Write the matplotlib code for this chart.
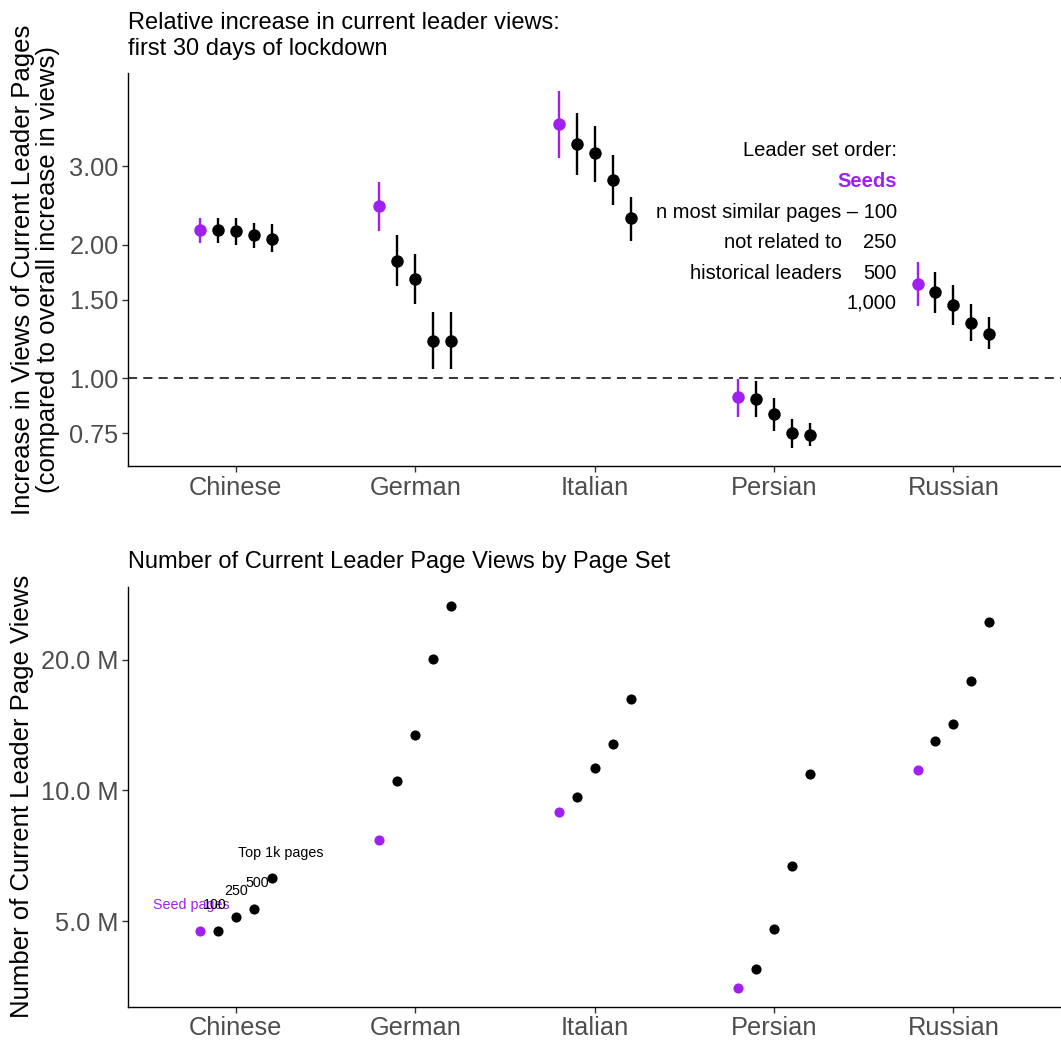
import numpy as np
import matplotlib
matplotlib.use("Agg")
import matplotlib.pyplot as plt
from matplotlib.ticker import FixedLocator, NullLocator, FixedFormatter

plt.rcParams['font.family'] = ['Liberation Sans', 'DejaVu Sans']

# kielet ja sarjat
categories = ['Chinese', 'German', 'Italian', 'Persian', 'Russian']
set_names = ['Seeds', '100', '250', '500', '1,000']

# suhteellinen kasvu (yläpaneeli), rivit = kieli, sarakkeet = sarja
ratio_mid = [[2.16, 2.16, 2.14, 2.10, 2.06],
             [2.44, 1.84, 1.67, 1.21, 1.21],
             [3.74, 3.37, 3.21, 2.80, 2.29],
             [0.905, 0.899, 0.829, 0.751, 0.745],
             [1.63, 1.56, 1.46, 1.33, 1.26]]
ratio_lo = [[2.02, 2.02, 2.00, 1.96, 1.92],
            [2.15, 1.61, 1.47, 1.05, 1.05],
            [3.14, 2.87, 2.77, 2.46, 2.04],
            [0.819, 0.819, 0.760, 0.695, 0.701],
            [1.45, 1.40, 1.32, 1.21, 1.16]]
ratio_hi = [[2.30, 2.30, 2.29, 2.24, 2.22],
            [2.76, 2.10, 1.90, 1.41, 1.41],
            [4.44, 3.95, 3.70, 3.18, 2.56],
            [0.995, 0.985, 0.903, 0.809, 0.791],
            [1.83, 1.73, 1.62, 1.47, 1.37]]

# katselukerrat miljoonina (alapaneeli)
views_m = [[4.74, 4.75, 5.11, 5.33, 6.28],
           [7.70, 10.49, 13.4, 20.1, 26.6],
           [8.94, 9.68, 11.27, 12.8, 16.2],
           [3.52, 3.88, 4.81, 6.69, 10.9],
           [11.14, 13.0, 14.2, 17.9, 24.4]]

ratio_ticks = [0.75, 1.00, 1.50, 2.00, 3.00]
view_ticks = [5.0, 10.0, 20.0]

PURPLE = '#A020F0'
colors = [PURPLE, 'black', 'black', 'black', 'black']
offsets = [-0.2, -0.1, 0.0, 0.1, 0.2]


def log_limits(lo, hi, mult=0.05):
    a, b = np.log(lo), np.log(hi)
    r = (b - a) * mult
    return np.exp(a - r), np.exp(b + r)


def style_axis(ax):
    for s in ['top', 'right']:
        ax.spines[s].set_visible(False)
    for s in ['left', 'bottom']:
        ax.spines[s].set_linewidth(1.0)
        ax.spines[s].set_color('black')
    ax.set_xlim(0.4, 5.6)
    ax.set_xticks(range(1, 6))
    ax.set_xticklabels(categories)
    ax.tick_params(axis='both', labelsize=18.3, labelcolor='#4D4D4D',
                   color='#333333', length=4, width=1.0, pad=3)
    ax.yaxis.set_minor_locator(NullLocator())


fig = plt.figure(figsize=(10.61, 10.43), dpi=100)

# yläpaneeli
ax1 = fig.add_axes([0.1209, 0.5532, 0.8791, 0.3768])
ax1.set_yscale('log')
for i, cat in enumerate(categories):
    for j in range(5):
        x = i + 1 + offsets[j]
        ax1.vlines(x, ratio_lo[i][j], ratio_hi[i][j], color=colors[j], lw=1.7)
        ax1.plot(x, ratio_mid[i][j], 'o', color=colors[j], ms=9, mew=0)
ax1.axhline(1.0, color='black', lw=1.1, ls=(0, (6, 4)))
ax1.set_ylim(*log_limits(np.min(ratio_lo), np.max(ratio_hi)))
ax1.yaxis.set_major_locator(FixedLocator(ratio_ticks))
ax1.yaxis.set_major_formatter(FixedFormatter(['%.2f' % t for t in ratio_ticks]))
style_axis(ax1)

# selite tekstinä
lx, lx2 = 0.824, 0.765
ax1.text(lx, 0.804, 'Leader set order:', transform=ax1.transAxes, ha='right', va='center', fontsize=14.5)
ax1.text(lx, 0.724, 'Seeds', transform=ax1.transAxes, ha='right', va='center', fontsize=14.5,
         color=PURPLE, fontweight='bold')
ax1.text(lx, 0.646, 'n most similar pages \u2013 100', transform=ax1.transAxes, ha='right', va='center', fontsize=14.5)
ax1.text(lx2, 0.568, 'not related to', transform=ax1.transAxes, ha='right', va='center', fontsize=14.5)
ax1.text(lx, 0.568, '250', transform=ax1.transAxes, ha='right', va='center', fontsize=14.5)
ax1.text(lx2, 0.490, 'historical leaders', transform=ax1.transAxes, ha='right', va='center', fontsize=14.5)
ax1.text(lx, 0.490, '500', transform=ax1.transAxes, ha='right', va='center', fontsize=14.5)
ax1.text(lx, 0.414, '1,000', transform=ax1.transAxes, ha='right', va='center', fontsize=14.5)

fig.text(0.1209, 0.9655, 'Relative increase in current leader views:\nfirst 30 days of lockdown',
         ha='left', va='center', fontsize=17, linespacing=1.25)
fig.text(0.0335, 0.7416, 'Increase in Views of Current Leader Pages\n(compared to overall increase in views)',
         rotation=90, ha='center', va='center', fontsize=18.5, linespacing=1.1)

# alapaneeli
ax2 = fig.add_axes([0.1209, 0.0348, 0.8791, 0.4027])
ax2.set_yscale('log')
for i, cat in enumerate(categories):
    for j in range(5):
        x = i + 1 + offsets[j]
        ax2.plot(x, views_m[i][j], 'o', color=colors[j], ms=7.3, mew=0)
ax2.set_ylim(*log_limits(np.min(views_m), np.max(views_m)))
ax2.yaxis.set_major_locator(FixedLocator(view_ticks))
ax2.yaxis.set_major_formatter(FixedFormatter(['%.1f M' % t for t in view_ticks]))
style_axis(ax2)

ax2.text(0.75, 5.44, 'Seed pages', color=PURPLE, ha='center', va='center', fontsize=10.3)
ax2.text(0.88, 5.44, '100', ha='center', va='center', fontsize=10.3)
ax2.text(1.0, 5.86, '250', ha='center', va='center', fontsize=10.3)
ax2.text(1.12, 6.11, '500', ha='center', va='center', fontsize=10.3)
ax2.text(1.25, 7.19, 'Top 1k pages', ha='center', va='center', fontsize=10.3)

fig.text(0.1209, 1 - 561.7 / 1043, 'Number of Current Leader Page Views by Page Set',
         ha='left', va='center', fontsize=17)
fig.text(0.0205, 0.2362, 'Number of Current Leader Page Views',
         rotation=90, ha='center', va='center', fontsize=18.5)

fig.savefig('out.png', dpi=100)
